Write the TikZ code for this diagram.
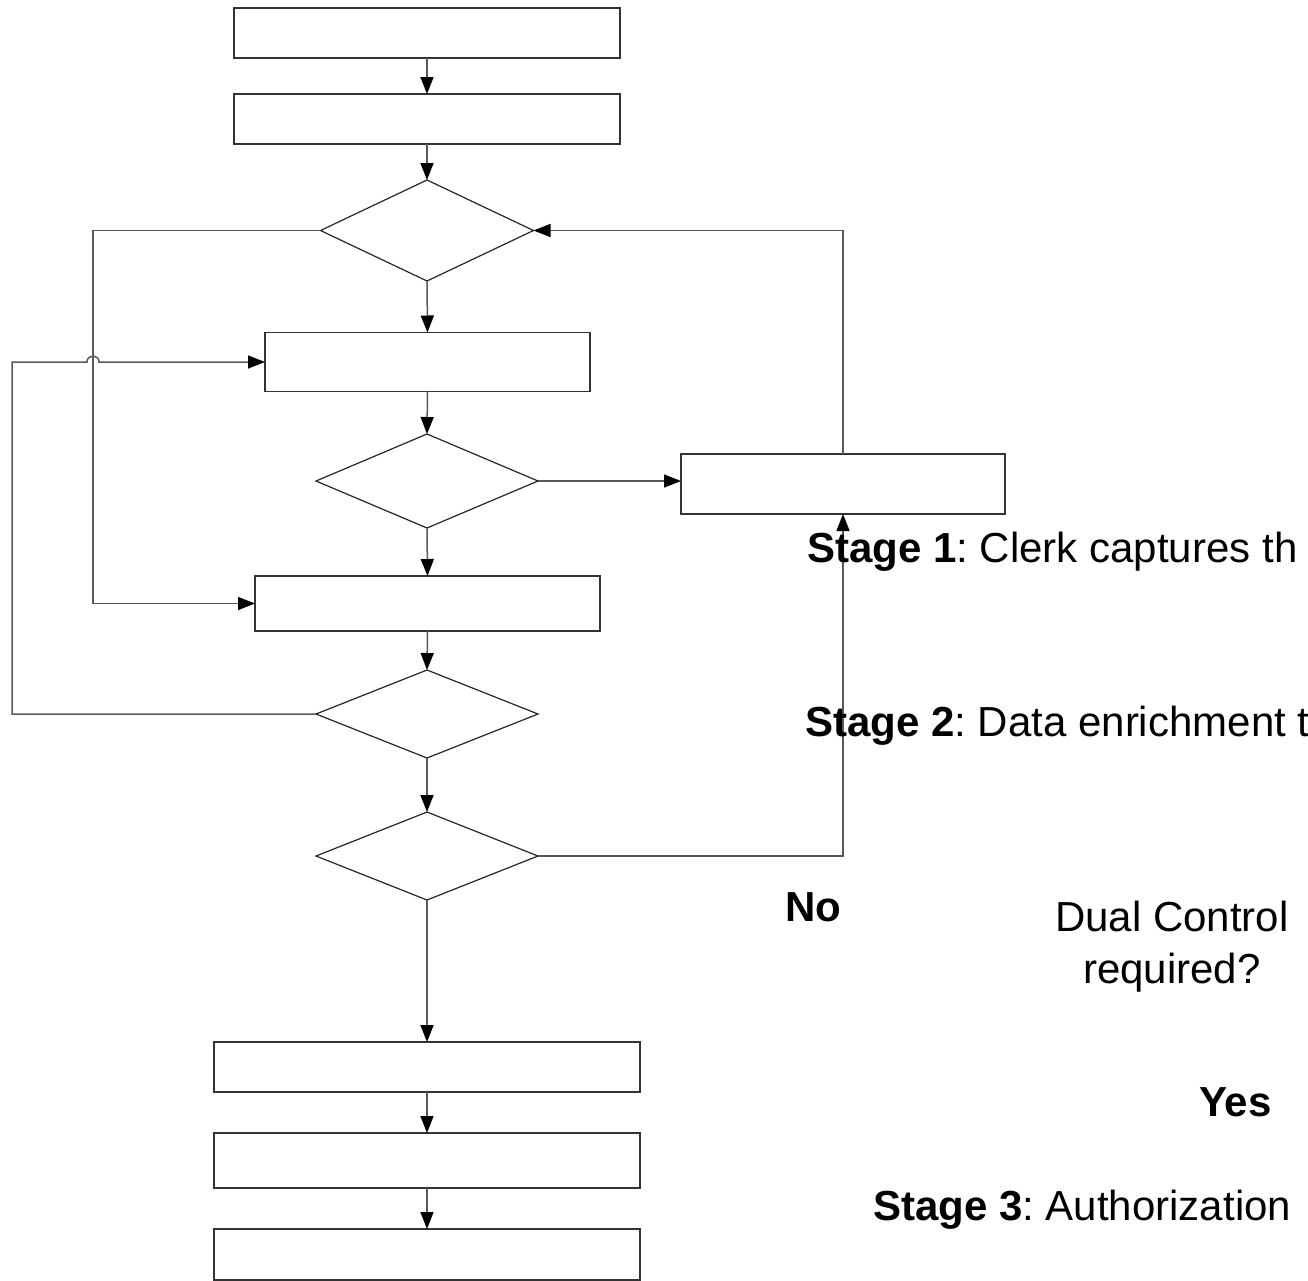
\documentclass[tikz,border=0pt]{standalone}
\usepackage{fontspec}
\setmainfont{Liberation Sans}
\usetikzlibrary{shapes.geometric,arrows.meta}
\newcommand\lblfont{\fontsize{42}{52}\selectfont\frenchspacing}
\begin{document}
\begin{tikzpicture}[x=1pt,y=-1pt,
  box/.style={draw=black!80,line width=1.5pt,rectangle,inner sep=0pt,outer sep=0pt},
  dec/.style={draw=black!85,line width=1.2pt,diamond,inner sep=0pt,outer sep=0pt,shape aspect=2},
  conn/.style={draw=black!65,line width=1.5pt},
  arr/.style={conn,-{Triangle[length=17pt,width=13pt,color=black]}},
  lbl/.style={font=\lblfont,inner sep=0pt}]
\useasboundingbox (0,0) rectangle (1308,1280);
% boxes and decisions
\node[box,minimum width=386pt,minimum height=50pt] (b1) at (427,33) {};
\node[box,minimum width=386pt,minimum height=50pt] (b2) at (427,119) {};
\node[dec,minimum width=213pt,minimum height=101pt] (d1) at (427,230.5) {};
\node[box,minimum width=325pt,minimum height=59pt] (b3) at (427.5,362) {};
\node[dec,minimum width=222pt,minimum height=94pt] (d2) at (427,481) {};
\node[box,minimum width=324pt,minimum height=60pt] (b5) at (843,484) {};
\node[box,minimum width=345pt,minimum height=55pt] (b4) at (427.5,603.5) {};
\node[dec,minimum width=222pt,minimum height=88pt] (d3) at (427,714) {};
\node[dec,minimum width=222pt,minimum height=88pt] (d4) at (427,856) {};
\node[box,minimum width=426pt,minimum height=50pt] (b6) at (427,1067) {};
\node[box,minimum width=426pt,minimum height=55pt] (b7) at (427,1160.5) {};
\node[box,minimum width=426pt,minimum height=51pt] (b8) at (427,1254.5) {};
% connectors
\draw[arr] (b1.south) -- (b2.north);
\draw[arr] (b2.south) -- (d1.north);
\draw[arr] (d1.south) -- (b3.north);
\draw[arr] (b3.south) -- (d2.north);
\draw[arr] (d2.south) -- (b4.north);
\draw[arr] (b4.south) -- (d3.north);
\draw[arr] (d3.south) -- (d4.north);
\draw[arr] (d4.south) -- (b6.north);
\draw[arr] (b6.south) -- (b7.north);
\draw[arr] (b7.south) -- (b8.north);
\draw[arr] (d2.east) -- (d2.east -| b5.west);
\draw[arr] (b5.north) |- (d1.east);
\draw[arr] (d4.east) -| (b5.south);
\coordinate (lx) at (93,0);
\draw[arr] (d1.west) -- (d1.west -| lx) |- (b4.west);
\coordinate (lo) at (12,362);
\coordinate (j1) at (87,362);
\coordinate (j2) at (99,362);
\draw[arr] (d3.west) -| (lo) -- (j1) .. controls (87,354) and (99,354) .. (j2) -- (b3.west);
% labels
\node[lbl,anchor=base west] (t1) at (807,562) {\textbf{Stage 1}: Clerk captures th};
\node[lbl,anchor=base west] (t2) at (805,736) {\textbf{Stage 2}: Data enrichment t};
\node[lbl,anchor=base west] (t3) at (785,921) {\textbf{No}};
\node[lbl,anchor=center,align=center] (t4) at (1172,947) {Dual Control\\required?};
\node[lbl,anchor=base west] (t5) at (1199,1116) {\textbf{Yes}};
\node[lbl,anchor=base west] (t6) at (873,1220) {\textbf{Stage 3}: Authorization};
\end{tikzpicture}
\end{document}
